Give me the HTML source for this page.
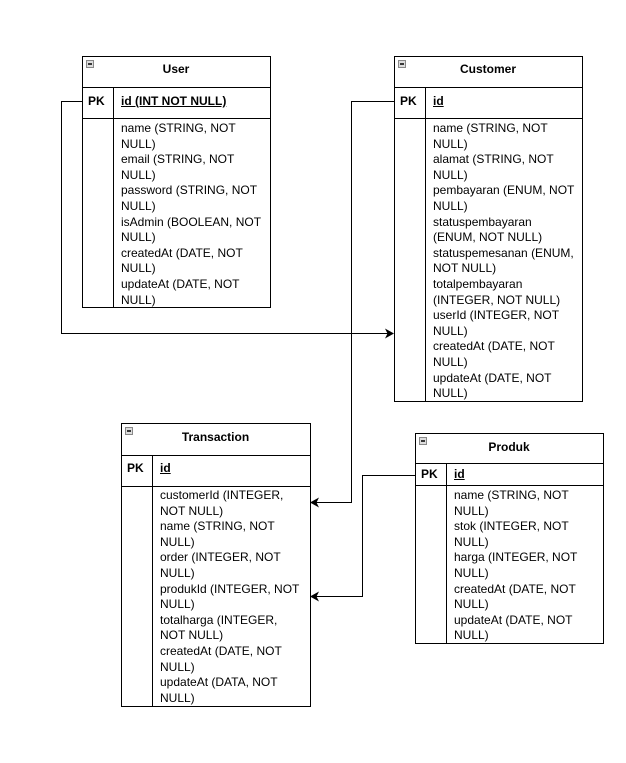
<!DOCTYPE html>
<html><head><meta charset="utf-8"><style>
body{margin:0;width:626px;height:763px;background:#fff;position:relative;overflow:hidden;font-family:"Liberation Sans",Arial,sans-serif;font-size:12px;color:#000}
.t{position:absolute;line-height:15.6px;white-space:nowrap}
.b{font-weight:bold}
.u{text-decoration:underline}
</style></head><body>
<svg width="626" height="763" style="position:absolute;left:0;top:0">
<g fill="#fff" stroke="#000" stroke-width="1">
<rect x="82.5" y="56.5" width="188" height="251"/>
<line x1="82" y1="87.5" x2="270" y2="87.5"/><line x1="82" y1="118.5" x2="270" y2="118.5"/><line x1="113.5" y1="87" x2="113.5" y2="307"/>
<rect x="394.5" y="56.5" width="188" height="345"/>
<line x1="394" y1="87.5" x2="582" y2="87.5"/><line x1="394" y1="118.5" x2="582" y2="118.5"/><line x1="425.5" y1="87" x2="425.5" y2="401"/>
<rect x="121.5" y="423.5" width="189" height="283"/>
<line x1="121" y1="455.5" x2="310" y2="455.5"/><line x1="121" y1="486.5" x2="310" y2="486.5"/><line x1="152.5" y1="455" x2="152.5" y2="706"/>
<rect x="415.5" y="433.5" width="188" height="210"/>
<line x1="415" y1="463.5" x2="603" y2="463.5"/><line x1="415" y1="485.5" x2="603" y2="485.5"/><line x1="446.5" y1="463" x2="446.5" y2="643"/>
</g>
<g fill="#ddd" stroke="#888" stroke-width="1">
<rect x="86.5" y="60.5" width="7" height="7"/><rect x="398.5" y="60.5" width="7" height="7"/><rect x="125.5" y="427.5" width="7" height="7"/><rect x="419.5" y="437.5" width="7" height="7"/>
</g>
<g stroke="#000" stroke-width="1.5"><line x1="88" y1="64" x2="92" y2="64"/><line x1="400" y1="64" x2="404" y2="64"/><line x1="127" y1="431" x2="131" y2="431"/><line x1="421" y1="441" x2="425" y2="441"/></g>
<g fill="none" stroke="#000" stroke-width="1">
<polyline points="82,101.5 61.5,101.5 61.5,333.5 388,333.5"/>
<polyline points="394,101.5 351.5,101.5 351.5,502.5 316,502.5"/>
<polyline points="415,475.5 362.5,475.5 362.5,596.5 316,596.5"/>
</g>
<g fill="#000">
<polygon points="394,333.5 385,328.5 387.5,333.5 385,338.5"/>
<polygon points="310,502.5 319,497.5 316.5,502.5 319,507.5"/>
<polygon points="310,596.5 319,591.5 316.5,596.5 319,601.5"/>
</g>
</svg>
<div class="t b" style="left:82px;width:188px;text-align:center;top:62px">User</div>
<div class="t b" style="left:88px;top:94px">PK</div>
<div class="t b u" style="left:121px;top:94px">id (INT NOT NULL)</div>
<div class="t" style="left:121px;top:121px">name (STRING, NOT<br>NULL)<br>email (STRING, NOT<br>NULL)<br>password (STRING, NOT<br>NULL)<br>isAdmin (BOOLEAN, NOT<br>NULL)<br>createdAt (DATE, NOT<br>NULL)<br>updateAt (DATE, NOT<br>NULL)</div>

<div class="t b" style="left:394px;width:188px;text-align:center;top:62px">Customer</div>
<div class="t b" style="left:400px;top:94px">PK</div>
<div class="t b u" style="left:433px;top:94px">id</div>
<div class="t" style="left:433px;top:121px">name (STRING, NOT<br>NULL)<br>alamat (STRING, NOT<br>NULL)<br>pembayaran (ENUM, NOT<br>NULL)<br>statuspembayaran<br>(ENUM, NOT NULL)<br>statuspemesanan (ENUM,<br>NOT NULL)<br>totalpembayaran<br>(INTEGER, NOT NULL)<br>userId (INTEGER, NOT<br>NULL)<br>createdAt (DATE, NOT<br>NULL)<br>updateAt (DATE, NOT<br>NULL)</div>

<div class="t b" style="left:121px;width:189px;text-align:center;top:430px">Transaction</div>
<div class="t b" style="left:127px;top:461px">PK</div>
<div class="t b u" style="left:160px;top:461px">id</div>
<div class="t" style="left:160px;top:488px">customerId (INTEGER,<br>NOT NULL)<br>name (STRING, NOT<br>NULL)<br>order (INTEGER, NOT<br>NULL)<br>produkId (INTEGER, NOT<br>NULL)<br>totalharga (INTEGER,<br>NOT NULL)<br>createdAt (DATE, NOT<br>NULL)<br>updateAt (DATA, NOT<br>NULL)</div>

<div class="t b" style="left:415px;width:188px;text-align:center;top:440px">Produk</div>
<div class="t b" style="left:421px;top:467px">PK</div>
<div class="t b u" style="left:454px;top:467px">id</div>
<div class="t" style="left:454px;top:488px">name (STRING, NOT<br>NULL)<br>stok (INTEGER, NOT<br>NULL)<br>harga (INTEGER, NOT<br>NULL)<br>createdAt (DATE, NOT<br>NULL)<br>updateAt (DATE, NOT<br>NULL)</div>
</body></html>
